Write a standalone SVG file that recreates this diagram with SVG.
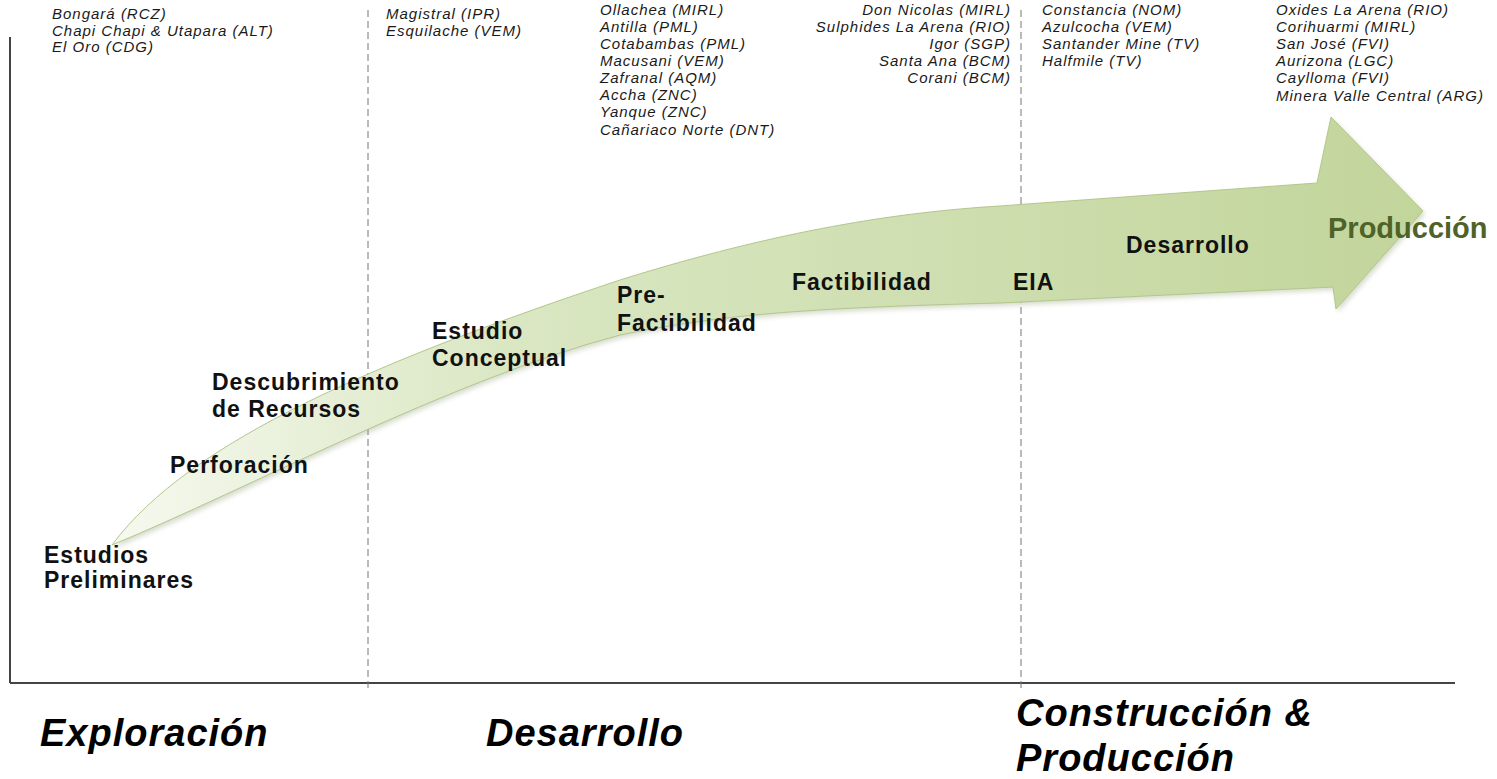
<svg xmlns="http://www.w3.org/2000/svg" width="1497" height="779" viewBox="0 0 1497 779">
<style>
.list{font-family:"Liberation Sans",Arial,sans-serif;font-style:italic;font-size:15px;fill:#1a1a1a;letter-spacing:1px}
.stage{font-family:"Liberation Sans",Arial,sans-serif;font-weight:bold;font-size:23px;fill:#111;letter-spacing:1px}
.phase{font-family:"Liberation Sans",Arial,sans-serif;font-weight:bold;font-style:italic;font-size:38px;fill:#000;letter-spacing:1px}
.prod{font-family:"Liberation Sans",Arial,sans-serif;font-weight:bold;font-size:29px;fill:#4f6228}
.axis{stroke:#444;stroke-width:2;fill:none}
.dash{stroke:#777;stroke-width:1;stroke-dasharray:7 4;fill:none}
</style>
<defs>
<linearGradient id="gArrow" x1="112" y1="0" x2="1423" y2="0" gradientUnits="userSpaceOnUse">
<stop offset="0" stop-color="#f6f9ef"/>
<stop offset="0.3" stop-color="#dae7c3"/>
<stop offset="1" stop-color="#c2d59b"/>
</linearGradient>
<filter id="shadow" x="-5%" y="-5%" width="110%" height="120%">
<feGaussianBlur stdDeviation="2.5"/>
</filter>
</defs>
<rect width="1497" height="779" fill="#fff"/>
<g id="axes">
<line class="axis" x1="10" y1="37" x2="10" y2="683"/>
<line class="axis" x1="10" y1="683" x2="1455" y2="683"/>
<line class="dash" x1="368" y1="10" x2="368" y2="690"/>
<line class="dash" x1="1021" y1="10" x2="1021" y2="690"/>
</g>
<g id="arrow">
<path d="M112,545 C190,440 380,360 620,280 C780,230 900,212 1000,206 L1317,183 L1331,117 L1423,211 L1336,309 L1333,287 L1000,303 C800,308 720,315 620,335 C450,380 250,488 112,545 Z" fill="#8a9a70" opacity="0.35" filter="url(#shadow)" transform="translate(2,3)"/>
<path d="M112,545 C190,440 380,360 620,280 C780,230 900,212 1000,206 L1317,183 L1331,117 L1423,211 L1336,309 L1333,287 L1000,303 C800,308 720,315 620,335 C450,380 250,488 112,545 Z" fill="url(#gArrow)" stroke="#b3c78c" stroke-width="1"/>
</g>
<g id="list-exploracion">
<text class="list" x="52" y="19">Bongará (RCZ)</text>
<text class="list" x="52" y="36">Chapi Chapi &amp; Utapara (ALT)</text>
<text class="list" x="52" y="52">El Oro (CDG)</text>
</g>
<g id="list-conceptual">
<text class="list" x="386" y="19">Magistral (IPR)</text>
<text class="list" x="386" y="36">Esquilache (VEM)</text>
</g>
<g id="list-prefact">
<text class="list" x="600" y="15">Ollachea (MIRL)</text>
<text class="list" x="600" y="32">Antilla (PML)</text>
<text class="list" x="600" y="49">Cotabambas (PML)</text>
<text class="list" x="600" y="66">Macusani (VEM)</text>
<text class="list" x="600" y="83">Zafranal (AQM)</text>
<text class="list" x="600" y="100">Accha (ZNC)</text>
<text class="list" x="600" y="117">Yanque (ZNC)</text>
<text class="list" x="600" y="135">Cañariaco Norte (DNT)</text>
</g>
<g id="list-fact" text-anchor="end">
<text class="list" x="1011" y="15">Don Nicolas (MIRL)</text>
<text class="list" x="1011" y="32">Sulphides La Arena (RIO)</text>
<text class="list" x="1011" y="49">Igor (SGP)</text>
<text class="list" x="1011" y="66">Santa Ana (BCM)</text>
<text class="list" x="1011" y="83">Corani (BCM)</text>
</g>
<g id="list-construccion">
<text class="list" x="1042" y="15">Constancia (NOM)</text>
<text class="list" x="1042" y="32">Azulcocha (VEM)</text>
<text class="list" x="1042" y="49">Santander Mine (TV)</text>
<text class="list" x="1042" y="66">Halfmile (TV)</text>
</g>
<g id="list-produccion">
<text class="list" x="1276" y="15">Oxides La Arena (RIO)</text>
<text class="list" x="1276" y="32">Corihuarmi (MIRL)</text>
<text class="list" x="1276" y="49">San José (FVI)</text>
<text class="list" x="1276" y="66">Aurizona (LGC)</text>
<text class="list" x="1276" y="83">Caylloma (FVI)</text>
<text class="list" x="1276" y="101">Minera Valle Central (ARG)</text>
</g>
<g id="stages">
<text class="stage" x="44" y="563">Estudios</text>
<text class="stage" x="44" y="588">Preliminares</text>
<text class="stage" x="170" y="473">Perforación</text>
<text class="stage" x="212" y="390">Descubrimiento</text>
<text class="stage" x="212" y="417">de Recursos</text>
<text class="stage" x="432" y="339">Estudio</text>
<text class="stage" x="432" y="366">Conceptual</text>
<text class="stage" x="617" y="303">Pre-</text>
<text class="stage" x="617" y="331">Factibilidad</text>
<text class="stage" x="792" y="290">Factibilidad</text>
<text class="stage" x="1013" y="290">EIA</text>
<text class="stage" x="1126" y="253">Desarrollo</text>
<text class="prod" x="1328" y="238">Producción</text>
</g>
<g id="phases">
<text class="phase" x="40" y="746">Exploración</text>
<text class="phase" x="486" y="746">Desarrollo</text>
<text class="phase" x="1016" y="726">Construcción &amp;</text>
<text class="phase" x="1016" y="771">Producción</text>
</g>
</svg>
